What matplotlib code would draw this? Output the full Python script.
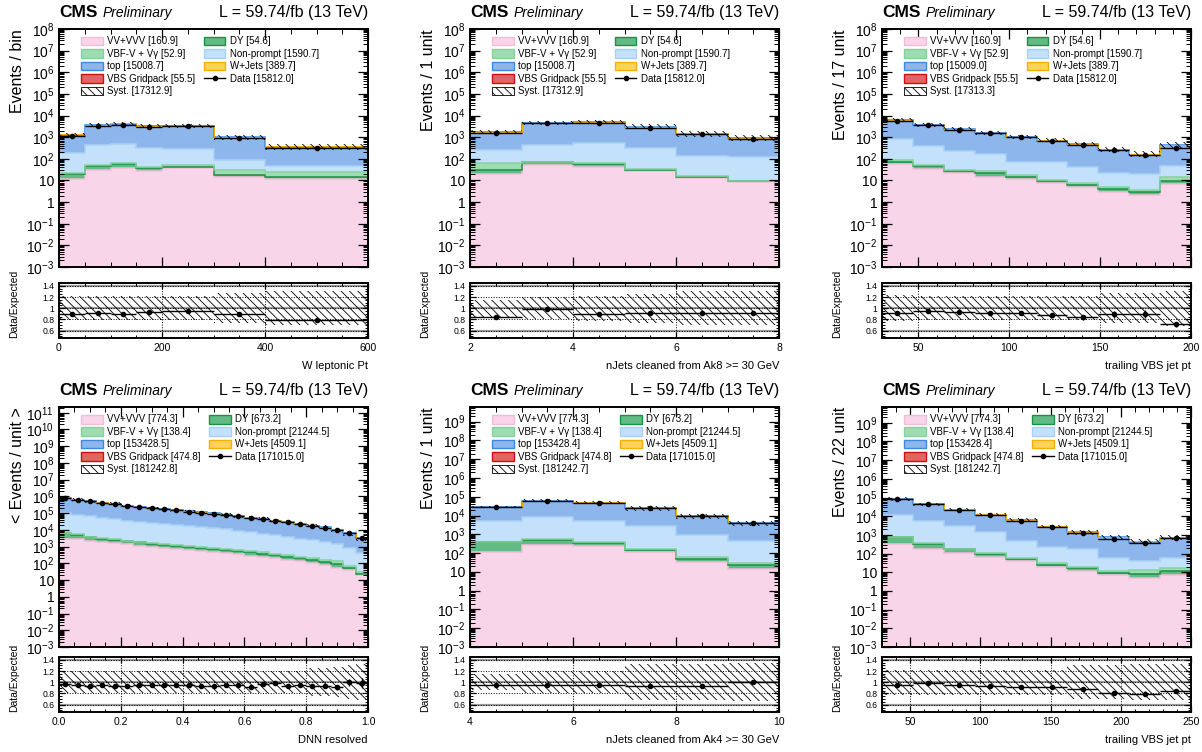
import numpy as np
import matplotlib
matplotlib.use('Agg')
import matplotlib.pyplot as plt
import matplotlib.ticker as mticker
from matplotlib.patches import Patch
from matplotlib.lines import Line2D

plt.rcParams['font.family'] = ['Liberation Sans', 'DejaVu Sans']
plt.rcParams['mathtext.fontset'] = 'custom'
plt.rcParams['mathtext.rm'] = 'Liberation Sans'
plt.rcParams['mathtext.default'] = 'regular'
plt.rcParams['hatch.linewidth'] = 0.6
plt.rcParams['hatch.color'] = 'black'

# ---------------- data ----------------
# W leptonic Pt
p1_edges = [0, 50, 100, 150, 200, 300, 400, 600]
p1_vv = [12, 30, 38, 28, 38, 15, 11.5]
p1_dy = [8, 15, 18, 8, 6, 3, 3]
p1_vbf = [2, 6, 5, 5, 8, 12, 10]
p1_vbs = [4, 10, 12, 9, 10, 6, 4.5]
p1_np = [165, 405, 445, 280, 220, 56, 23]
p1_top = [1110, 3126, 3707, 2905, 2953, 888, 304]
p1_wj = [30, 80, 90, 70, 70, 30, 20]
p1_data = [1190, 3350, 3850, 3100, 3150, 900, 300]
p1_syst = [0.21, 0.21, 0.21, 0.21, 0.21, 0.27, 0.30]

# nJets cleaned from Ak8
p2_edges = [2, 3, 4, 5, 6, 7, 8]
p2_vv = [19, 50, 42, 27, 12.6, 8.6]
p2_dy = [11, 18, 18, 4, 2, 0.6]
p2_vbf = [35, 7, 4, 2, 2, 0.5]
p2_vbs = [5, 12, 15, 12, 7, 4.5]
p2_np = [200, 350, 500, 300, 120, 110]
p2_top = [1520, 4200, 4500, 2650, 1330, 800]
p2_wj = [40, 100, 120, 70, 40, 20]
p2_data = [1550, 4650, 4650, 2780, 1390, 860]
p2_syst = [0.15, 0.20, 0.22, 0.26, 0.30, 0.30]

# trailing VBS jet pt (17 GeV bins)
p3_edges = [30, 47, 64, 81, 98, 115, 132, 149, 166, 183, 200]
p3_vv = [55, 33, 21, 15, 12, 7.6, 5, 3, 2.1, 7]
p3_dy = [20, 12, 5, 6, 2, 1.4, 1.2, 1.2, 0.9, 2]
p3_vbf = [12, 9, 6, 5, 3, 2, 1.5, 1, 0.6, 5]
p3_vbs = [12, 9, 7, 6, 5, 4, 3.5, 3, 2.5, 3.5]
p3_np = [700, 330, 190, 145, 55, 63, 32, 16, 16, 35]
p3_top = [5500, 3300, 2050, 1420, 960, 620, 430, 230, 135, 365]
p3_wj = [100, 60, 50, 40, 30, 25, 20, 20, 15, 30]
p3_data = [5890, 3570, 2170, 1490, 980, 636, 414, 244, 155, 318]
p3_syst = [0.23, 0.21, 0.21, 0.21, 0.21, 0.21, 0.21, 0.27, 0.27, 0.31]

# DNN resolved (events per unit, bin width 0.04)
p4_edges = [0.0, 0.04, 0.08, 0.12, 0.16, 0.20, 0.24, 0.28, 0.32, 0.36, 0.40, 0.44, 0.48,
            0.52, 0.56, 0.60, 0.64, 0.68, 0.72, 0.76, 0.80, 0.84, 0.88, 0.92, 0.96, 1.0]
p4_vv = [3000, 2700, 2300, 1900, 1600, 1350, 1150, 950, 800, 700, 600, 520, 450,
         400, 340, 290, 240, 200, 160, 130, 100, 75, 55, 40, 20]
p4_dy = [3500, 2300, 1400, 1100, 900, 750, 620, 520, 440, 380, 330, 290, 250,
         210, 190, 160, 140, 110, 90, 75, 60, 50, 40, 10, 4]
p4_vbf = [400, 300, 250, 200, 180, 160, 140, 130, 120, 110, 100, 95, 90,
          130, 80, 110, 70, 60, 50, 45, 40, 35, 40, 15, 5]
p4_vbs = [1500, 1300, 1100, 950, 850, 750, 650, 600, 550, 500, 450, 420, 390,
          360, 330, 300, 270, 240, 210, 180, 150, 120, 90, 60, 40]
p4_np = [90000, 77000, 62000, 51000, 43000, 34000, 29000, 24000, 22000, 18500, 15500, 13500, 12000,
         9800, 8100, 6600, 5500, 4400, 3700, 2700, 2200, 1800, 1250, 780, 400]
p4_top = [666000, 564000, 452000, 371000, 310000, 246000, 210000, 174000, 157000, 132000, 109000, 96000, 84000,
          69000, 57000, 46000, 38400, 30700, 25900, 19200, 15300, 12300, 8700, 5400, 2700]
p4_wj = [19000, 16000, 13000, 11000, 9000, 7200, 6100, 5100, 4600, 3900, 3200, 2800, 2500,
         2000, 1700, 1400, 1150, 950, 800, 600, 480, 380, 270, 170, 90]
p4_data = [760000, 630000, 500000, 415000, 340000, 270000, 235000, 195000, 178000, 148000, 123000, 107000, 93000,
           78000, 65000, 50000, 44000, 36000, 29000, 22000, 17000, 13800, 9500, 6500, 3200]
p4_syst = [0.2, 0.2, 0.2, 0.2, 0.2, 0.2, 0.2, 0.2, 0.2, 0.2, 0.2, 0.2, 0.2,
           0.2, 0.2, 0.2, 0.2, 0.2, 0.2, 0.2, 0.25, 0.25, 0.27, 0.30, 0.32]

# nJets cleaned from Ak4
p5_edges = [4, 5, 6, 7, 8, 9, 10]
p5_vv = [120, 270, 230, 110, 32, 14]
p5_dy = [250, 220, 130, 45, 18, 8]
p5_vbf = [30, 40, 30, 20, 10, 8]
p5_vbs = [70, 150, 140, 70, 30, 15]
p5_np = [5000, 7500, 5000, 2600, 900, 400]
p5_top = [23330, 52420, 43670, 22255, 8260, 3465]
p5_wj = [700, 1500, 1300, 700, 220, 90]
p5_data = [28000, 59000, 48000, 24000, 8900, 4000]
p5_syst = [0.14, 0.20, 0.20, 0.32, 0.32, 0.34]

# trailing VBS jet pt (22 GeV bins)
p6_edges = [30, 52, 74, 96, 118, 140, 162, 184, 206, 228, 250]
p6_vv = [330, 185, 110, 66, 38, 20, 11, 7, 5, 7]
p6_dy = [400, 160, 60, 30, 14, 6, 5, 2.5, 3, 4]
p6_vbf = [50, 25, 15, 12, 8, 5, 3, 2, 6, 5]
p6_vbs = [180, 110, 70, 45, 28, 18, 10, 6, 4, 4]
p6_np = [11000, 5500, 2700, 1250, 440, 190, 160, 50, 25, 40]
p6_top = [73100, 37420, 19445, 10647, 5452, 2561, 1221, 667, 342, 595]
p6_wj = [1840, 1000, 600, 350, 250, 150, 80, 40, 80, 110]
p6_data = [83000, 43500, 22000, 11500, 5700, 2700, 1300, 620, 370, 650]
p6_syst = [0.22, 0.22, 0.22, 0.22, 0.22, 0.22, 0.30, 0.30, 0.32, 0.32]

legend_top = ['VV+VVV [160.9]', 'VBF-V + V\u03b3 [52.9]', 'top [15008.7]', 'VBS Gridpack [55.5]',
              'Syst. [17312.9]', 'DY [54.6]', 'Non-prompt [1590.7]', 'W+Jets [389.7]', 'Data [15812.0]']
legend_top3 = ['VV+VVV [160.9]', 'VBF-V + V\u03b3 [52.9]', 'top [15009.0]', 'VBS Gridpack [55.5]',
               'Syst. [17313.3]', 'DY [54.6]', 'Non-prompt [1590.7]', 'W+Jets [389.7]', 'Data [15812.0]']
legend_bot1 = ['VV+VVV [774.3]', 'VBF-V + V\u03b3 [138.4]', 'top [153428.5]', 'VBS Gridpack [474.8]',
               'Syst. [181242.8]', 'DY [673.2]', 'Non-prompt [21244.5]', 'W+Jets [4509.1]', 'Data [171015.0]']
legend_bot = ['VV+VVV [774.3]', 'VBF-V + V\u03b3 [138.4]', 'top [153428.4]', 'VBS Gridpack [474.8]',
              'Syst. [181242.7]', 'DY [673.2]', 'Non-prompt [21244.5]', 'W+Jets [4509.1]', 'Data [171015.0]']

# stack order, bottom to top (signal sits under W+Jets, no outline of its own)
order = ['vv', 'dy', 'vbf', 'np', 'top', 'vbs', 'wj']
face = {'vv': '#f8d5e8', 'dy': '#62bb84', 'vbf': '#9fdcb2', 'vbs': '#e06666',
        'np': '#c4e1fb', 'top': '#8db7ec', 'wj': '#ffd359'}
edge = {'vv': '#f2bdd9', 'dy': '#1b9148', 'vbf': '#84d39c', 'vbs': '#cc1010',
        'np': '#a9d1f6', 'top': '#3d88e0', 'wj': '#f5b000'}

W, H = 1202, 752
cols_px = [59, 470, 882]
ax_w = 309


def fmt_log(v, pos):
    n = int(round(np.log10(v)))
    if n == 0:
        return '1'
    if n == 1:
        return '10'
    return r'$10^{%d}$' % n


def panel(col, row, edges, comps, data, syst, norm, ylabel, xlabel, ymax, labels, xmaj, xmin):
    if row == 0:
        top_px, bot_px, rtop, rbot = 29, 267, 283, 338
    else:
        top_px, bot_px, rtop, rbot = 407, 647, 657, 712
    x0 = cols_px[col]
    ax = fig.add_axes([x0 / W, 1 - bot_px / H, ax_w / W, (bot_px - top_px) / H])
    rax = fig.add_axes([x0 / W, 1 - rbot / H, ax_w / W, (rbot - rtop) / H])
    hpx = bot_px - top_px

    edges = np.array(edges, dtype=float)
    centers = 0.5 * (edges[1:] + edges[:-1])
    halfw = 0.5 * (edges[1:] - edges[:-1])
    data = np.array(data, dtype=float)
    syst = np.array(syst)

    base = np.full(len(centers), 1e-6)
    levels = []
    for k in order:
        t = base + np.array(comps[k], dtype=float)
        ax.fill_between(edges, np.append(base, base[-1]), np.append(t, t[-1]), step='post',
                        facecolor=face[k], edgecolor='none', lw=0)
        levels.append((k, t))
        base = t
    for k, t in levels:
        if k == 'vbs':
            continue
        ax.stairs(t, edges, baseline=None, color=edge[k], lw=1.1 if k != 'wj' else 0.7)
    mc = base

    ax.fill_between(edges, np.append(mc * (1 - syst), mc[-1] * (1 - syst[-1])),
                    np.append(mc * (1 + syst), mc[-1] * (1 + syst[-1])), step='post',
                    facecolor='none', edgecolor='black', hatch='\\\\\\\\', lw=0)
    derr = np.sqrt(data * norm) / norm
    ax.errorbar(centers, data, xerr=halfw, yerr=derr, fmt='o', color='black', ms=3, lw=1, capsize=0)

    ax.set_yscale('log')
    ax.set_ylim(1e-3, ymax)
    ax.set_xlim(edges[0], edges[-1])
    ax.yaxis.set_major_locator(mticker.LogLocator(base=10, numticks=40))
    ax.yaxis.set_minor_locator(mticker.LogLocator(base=10, subs=np.arange(2, 10), numticks=40))
    ax.yaxis.set_major_formatter(mticker.FuncFormatter(fmt_log))
    ax.yaxis.set_minor_formatter(mticker.NullFormatter())
    ax.tick_params(labelbottom=False, labelsize=10)
    ax.set_ylabel(ylabel, fontsize=11.5, loc='top')
    ax.yaxis.set_label_coords(-0.11, 1.0)

    # ratio
    rax.fill_between(edges, np.append(1 - syst, 1 - syst[-1]), np.append(1 + syst, 1 + syst[-1]),
                     step='post', facecolor='none', edgecolor='black', hatch='\\\\\\\\', lw=0)
    for yv in (0.6, 1.0, 1.4):
        rax.axhline(yv, color='#9a9a9a', lw=1.6, zorder=0.5)
    rax.errorbar(centers, data / mc, xerr=halfw, yerr=derr / mc, fmt='o', color='black',
                 ms=3, lw=1, capsize=0)
    rax.set_xlim(edges[0], edges[-1])
    rax.set_ylim(0.47, 1.45)
    rax.set_yticks([0.6, 0.8, 1.0, 1.2, 1.4])
    rax.set_yticklabels(['0.6', '0.8', '1', '1.2', '1.4'])
    rax.yaxis.set_minor_locator(mticker.MultipleLocator(0.05))
    rax.grid(True, which='major', color='black', ls=':', lw=0.7)
    rax.tick_params(axis='y', labelsize=6.2)
    rax.tick_params(axis='x', labelsize=7.5)
    rax.set_ylabel('Data/Expected', fontsize=7.5, loc='bottom')
    rax.yaxis.set_label_coords(-0.13, 0.0)
    rax.set_xlabel(xlabel, fontsize=8, loc='right', labelpad=6)

    for a in (ax, rax):
        a.xaxis.set_major_locator(mticker.MultipleLocator(xmaj))
        a.xaxis.set_minor_locator(mticker.MultipleLocator(xmin))
        a.tick_params(which='both', direction='in', top=True, right=True)
        a.tick_params(which='major', length=7, width=0.9)
        a.tick_params(which='minor', length=3.5, width=0.7)
        for s in a.spines.values():
            s.set_linewidth(1.4)
        a.set_axisbelow(False)
    rax.tick_params(which='major', length=4)
    rax.tick_params(which='minor', length=2)

    ty = 1 + 16.5 / hpx
    ax.text(0.0, ty, 'CMS', transform=ax.transAxes, fontsize=12.5, fontweight='bold', va='center', ha='left')
    ax.text(0.142, ty, 'Preliminary', transform=ax.transAxes, fontsize=10, style='italic', va='center', ha='left')
    ax.text(1.0, ty, 'L = 59.74/fb (13 TeV)', transform=ax.transAxes, fontsize=11.5, va='center', ha='right')

    handles = [Patch(facecolor=face['vv'], edgecolor=edge['vv']),
               Patch(facecolor=face['vbf'], edgecolor=edge['vbf']),
               Patch(facecolor=face['top'], edgecolor=edge['top']),
               Patch(facecolor=face['vbs'], edgecolor=edge['vbs']),
               Patch(facecolor='white', edgecolor='black', hatch='\\\\\\\\', lw=0.6),
               Patch(facecolor=face['dy'], edgecolor=edge['dy']),
               Patch(facecolor=face['np'], edgecolor=edge['np']),
               Patch(facecolor=face['wj'], edgecolor=edge['wj']),
               Line2D([0], [0], color='black', marker='o', ms=3, lw=1)]
    ax.legend(handles, labels, ncol=2, loc='upper left', bbox_to_anchor=(0.06, 0.985), frameon=False,
              fontsize=7.0, handlelength=2.2, handleheight=1.0, labelspacing=0.25,
              columnspacing=0.9, handletextpad=0.45, borderaxespad=0)


fig = plt.figure(figsize=(W / 100, H / 100), dpi=100)

panel(0, 0, p1_edges, dict(vv=p1_vv, dy=p1_dy, vbf=p1_vbf, vbs=p1_vbs, np=p1_np, top=p1_top, wj=p1_wj),
      p1_data, p1_syst, 1.0, 'Events / bin', 'W leptonic Pt', 1e8, legend_top, 200, 50)
panel(1, 0, p2_edges, dict(vv=p2_vv, dy=p2_dy, vbf=p2_vbf, vbs=p2_vbs, np=p2_np, top=p2_top, wj=p2_wj),
      p2_data, p2_syst, 1.0, 'Events / 1 unit', 'nJets cleaned from Ak8 >= 30 GeV', 1e8, legend_top, 2, 0.5)
panel(2, 0, p3_edges, dict(vv=p3_vv, dy=p3_dy, vbf=p3_vbf, vbs=p3_vbs, np=p3_np, top=p3_top, wj=p3_wj),
      p3_data, p3_syst, 1.0, 'Events / 17 unit', 'trailing VBS jet pt', 1e8, legend_top3, 50, 10)
panel(0, 1, p4_edges, dict(vv=p4_vv, dy=p4_dy, vbf=p4_vbf, vbs=p4_vbs, np=p4_np, top=p4_top, wj=p4_wj),
      p4_data, p4_syst, 0.04, '< Events / unit >', 'DNN resolved', 2.2e11, legend_bot1, 0.2, 0.05)
panel(1, 1, p5_edges, dict(vv=p5_vv, dy=p5_dy, vbf=p5_vbf, vbs=p5_vbs, np=p5_np, top=p5_top, wj=p5_wj),
      p5_data, p5_syst, 1.0, 'Events / 1 unit', 'nJets cleaned from Ak4 >= 30 GeV', 6e9, legend_bot, 2, 0.5)
panel(2, 1, p6_edges, dict(vv=p6_vv, dy=p6_dy, vbf=p6_vbf, vbs=p6_vbs, np=p6_np, top=p6_top, wj=p6_wj),
      p6_data, p6_syst, 1.0, 'Events / 22 unit', 'trailing VBS jet pt', 7e9, legend_bot, 50, 10)

fig.savefig('out.png', dpi=100)
